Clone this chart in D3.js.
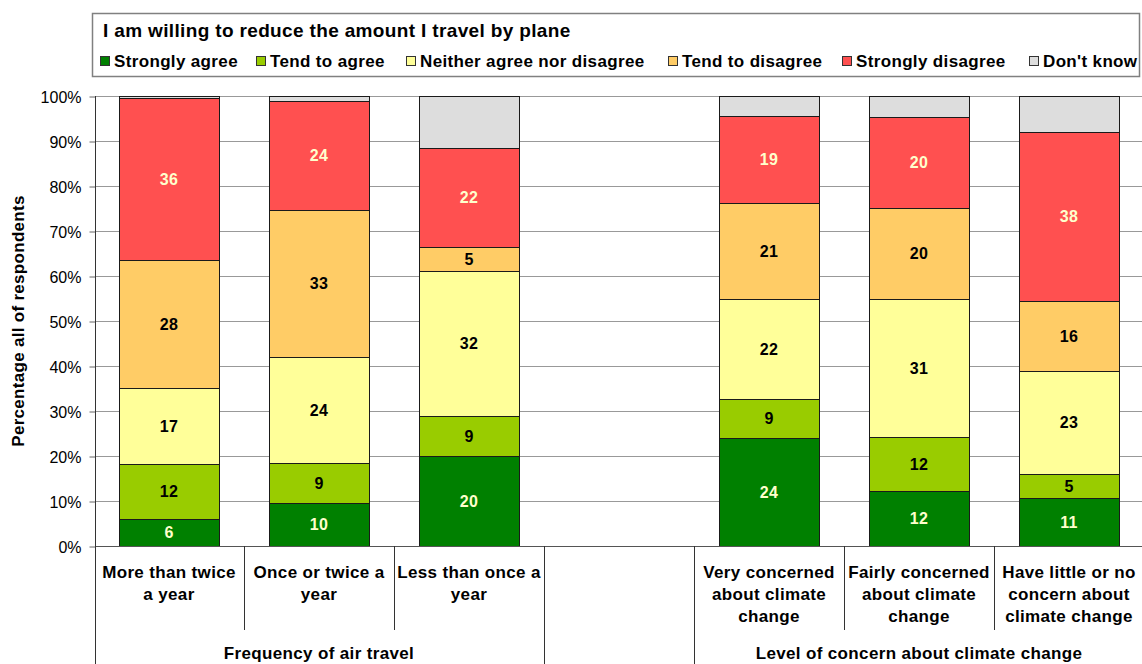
<!DOCTYPE html>
<html>
<head>
<meta charset="utf-8">
<script src="https://cdn.jsdelivr.net/npm/d3@7"></script>
<style>
  html, body { margin: 0; padding: 0; background: #fff; }
  svg { display: block; font-family: "Liberation Sans", Arial, sans-serif; }
</style>
</head>
<body>
<svg id="chart" width="1142" height="664"></svg>
<script>
// ---- data ----
const categories = ["c1", "c2", "c3", "gap", "c5", "c6", "c7"];
const categoryLines = [
  ["More than twice", "a year"],
  ["Once or twice a", "year"],
  ["Less than once a", "year"],
  [],
  ["Very concerned", "about climate", "change"],
  ["Fairly concerned", "about climate", "change"],
  ["Have little or no", "concern about", "climate change"]
];
const groupLabels = ["Frequency of air travel", "", "Level of concern about climate change"];
const groupStarts = [0, 3, 4];
const groupEnds = [3, 4, 7];

const seriesNames = ["Strongly agree", "Tend to agree", "Neither agree nor disagree", "Tend to disagree", "Strongly disagree", "Don't know"];
const stronglyAgree    = [6.0, 9.6, 20.0, 0, 24.0, 12.2, 10.6];
const tendToAgree      = [12.2, 8.8, 8.9, 0, 8.6, 12.0, 5.4];
const neither          = [16.9, 23.6, 32.2, 0, 22.3, 30.7, 22.9];
const tendToDisagree   = [28.4, 32.6, 5.3, 0, 21.3, 20.2, 15.6];
const stronglyDisagree = [36.1, 24.3, 22.0, 0, 19.4, 20.2, 37.6];
const dontKnow         = [0.4, 1.1, 11.6, 0, 4.4, 4.7, 7.9];
const yTicks = [0, 10, 20, 30, 40, 50, 60, 70, 80, 90, 100];

const chartTitle = "I am willing to reduce the amount I travel by plane";
const yTitle = "Percentage all of respondents";

// ---- styles ----
const colors = ["#008000", "#99CC00", "#FFFF99", "#FFCC66", "#FF5050", "#DDDDDD"];
const labelColors = ["#FFFFCC", "#000", "#000", "#000", "#FFFFCC", null];

const svg = d3.select("#chart");
const W = 1142, H = 664;
const pLeft = 95, pRight = 1145, pTop = 96, pBottom = 546;

const keys = seriesNames;
const allSeries = [stronglyAgree, tendToAgree, neither, tendToDisagree, stronglyDisagree, dontKnow];
const table = categories.map((c, i) => {
  const row = { cat: c, idx: i };
  keys.forEach((k, j) => row[k] = allSeries[j][i]);
  return row;
});

const x = d3.scaleBand().domain(categories).range([pLeft, pRight]).paddingInner(0.333).paddingOuter(0.1665);
const y = d3.scaleLinear().domain([0, 100]).range([pBottom, pTop]);
const step = x.step();

// gridlines
svg.append("g").selectAll("line").data(yTicks).join("line")
  .attr("x1", pLeft).attr("x2", W)
  .attr("y1", d => Math.round(y(d)) + 0.5).attr("y2", d => Math.round(y(d)) + 0.5)
  .attr("stroke", "#999").attr("stroke-width", 1);

// y axis
const yAxis = d3.axisLeft(y).tickValues(yTicks).tickFormat(d => d + "%").tickSize(6).tickPadding(8);
const yg = svg.append("g").attr("transform", `translate(${pLeft + 0.5},0.5)`).call(yAxis);
yg.select(".domain").remove();
yg.selectAll(".tick line").attr("stroke", "#666");
yg.selectAll(".tick text").attr("font-size", 16)
  .attr("fill", "#000").attr("font-family", "Liberation Sans, Arial, sans-serif").attr("dy", "0.35em");

// y title
svg.append("text")
  .attr("transform", `translate(24,${(pTop + pBottom) / 2}) rotate(-90)`)
  .attr("text-anchor", "middle").attr("font-size", 17).attr("font-weight", "bold")
  .attr("letter-spacing", "0.3px").text(yTitle);

// bars
const stack = d3.stack().keys(keys);
const stacked = stack(table);
const barG = svg.append("g");
stacked.forEach((s, j) => {
  barG.append("g").selectAll("rect").data(s.filter(d => d.data.cat !== "gap")).join("rect")
    .attr("x", d => Math.round(x(d.data.cat)) - 0.5)
    .attr("width", Math.round(x.bandwidth()))
    .attr("y", d => Math.round(y(d[1])) + 0.5)
    .attr("height", d => Math.max(0, Math.round(y(d[0])) - Math.round(y(d[1]))))
    .attr("fill", colors[j]).attr("stroke", "#1a1a1a").attr("stroke-width", 1);
});
// labels
stacked.forEach((s, j) => {
  if (!labelColors[j]) return;
  barG.append("g").selectAll("text").data(s.filter(d => d.data.cat !== "gap" && (d[1] - d[0]) >= 1)).join("text")
    .attr("x", d => x(d.data.cat) + x.bandwidth() / 2 - 1)
    .attr("y", d => y((d[0] + d[1]) / 2))
    .attr("dy", "0.36em").attr("text-anchor", "middle")
    .attr("font-size", 16).attr("font-weight", "bold").attr("letter-spacing", "0.3px")
    .attr("fill", labelColors[j])
    .text(d => Math.round(d[1] - d[0]));
});

// baseline
svg.append("line").attr("x1", pLeft).attr("x2", W).attr("y1", pBottom + 0.5).attr("y2", pBottom + 0.5)
  .attr("stroke", "#555").attr("stroke-width", 1);
// y axis line
svg.append("line").attr("x1", pLeft + 0.5).attr("x2", pLeft + 0.5).attr("y1", pTop).attr("y2", H)
  .attr("stroke", "#333").attr("stroke-width", 1);

// category separators
const fullBounds = new Set(groupStarts.concat(groupEnds));
for (let i = 1; i < categories.length; i++) {
  const bx = Math.round(pLeft + i * step) - 0.5;
  svg.append("line").attr("x1", bx).attr("x2", bx).attr("y1", pBottom)
    .attr("y2", fullBounds.has(i) ? H : 630).attr("stroke", "#333").attr("stroke-width", 1);
}

// category labels
categories.forEach((c, i) => {
  const cx = pLeft + (i + 0.5) * step - 1;
  categoryLines[i].forEach((line, k) => {
    svg.append("text").attr("x", cx).attr("y", 572 + k * 22).attr("dy", "0.36em")
      .attr("text-anchor", "middle").attr("font-size", 17).attr("font-weight", "bold")
      .attr("letter-spacing", "0.35px").text(line);
  });
});
// group labels
groupLabels.forEach((g, i) => {
  const cx = pLeft + (groupStarts[i] + groupEnds[i]) / 2 * step - 1;
  svg.append("text").attr("x", cx).attr("y", 653).attr("dy", "0.36em")
    .attr("text-anchor", "middle").attr("font-size", 17).attr("font-weight", "bold")
    .attr("letter-spacing", "0.35px").text(g);
});

// legend box
svg.append("rect").attr("x", 92.5).attr("y", 13.5).attr("width", 1047).attr("height", 63)
  .attr("fill", "#fff").attr("stroke", "#808080").attr("stroke-width", 1.5);
svg.append("text").attr("x", 103).attr("y", 30).attr("dy", "0.36em")
  .attr("font-size", 19).attr("font-weight", "bold").attr("letter-spacing", "0.35px").text(chartTitle);
const legendX = [100, 256, 406, 668, 842, 1029];
seriesNames.forEach((n, j) => {
  svg.append("rect").attr("x", legendX[j] + 0.5).attr("y", 56.5).attr("width", 9).attr("height", 9)
    .attr("fill", colors[j]).attr("stroke", "#333").attr("stroke-width", 1);
  svg.append("text").attr("x", legendX[j] + 14).attr("y", 61).attr("dy", "0.36em")
    .attr("font-size", 17).attr("font-weight", "bold").attr("letter-spacing", "0.35px").text(n);
});
</script>
</body>
</html>
